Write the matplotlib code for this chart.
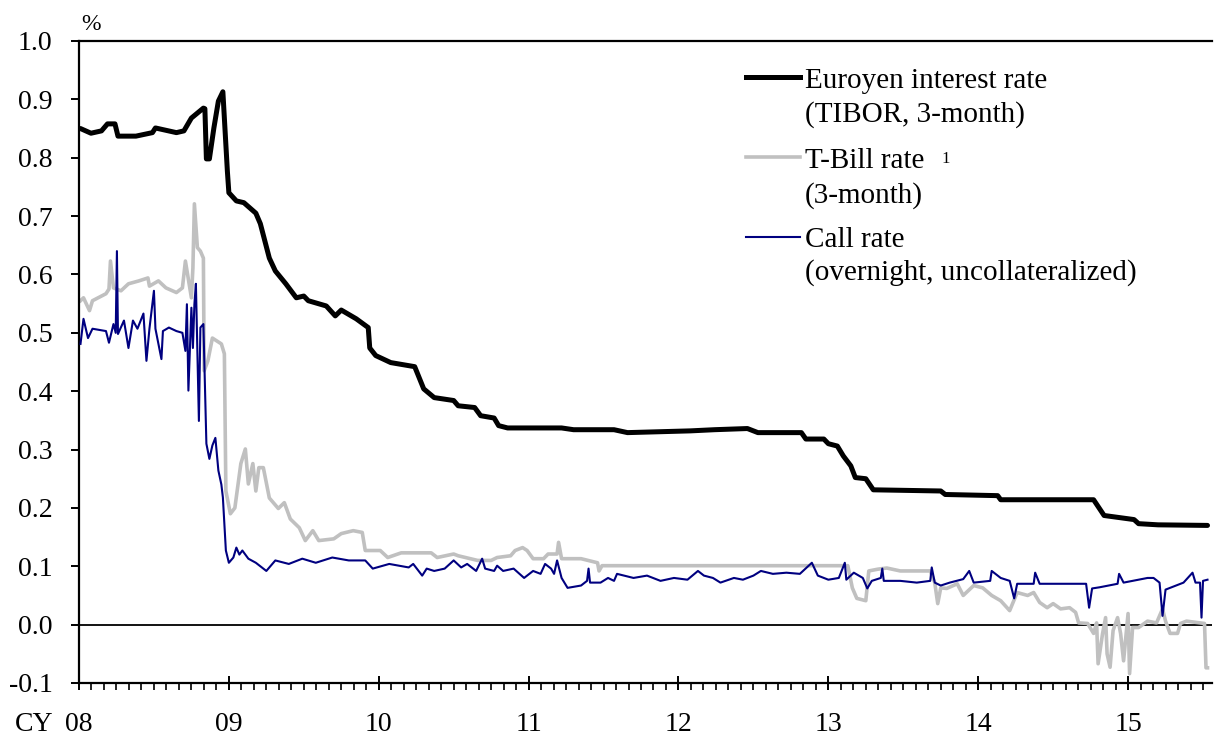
import numpy as np
import matplotlib
matplotlib.use("Agg")
import matplotlib.pyplot as plt
from matplotlib.lines import Line2D

# ---------------- data (decimal calendar years, %) ----------------
tibor_x = [2008.01, 2008.08, 2008.15, 2008.19, 2008.24, 2008.26, 2008.38, 2008.49, 2008.51, 2008.65,
           2008.70, 2008.75, 2008.83, 2008.84, 2008.85, 2008.87, 2008.90, 2008.93, 2008.96, 2008.99,
           2009.00, 2009.05, 2009.10, 2009.18, 2009.21, 2009.27, 2009.31, 2009.38, 2009.45, 2009.50,
           2009.53, 2009.65, 2009.71, 2009.75, 2009.85, 2009.93, 2009.94, 2009.98, 2010.08, 2010.24,
           2010.30, 2010.37, 2010.50, 2010.53, 2010.64, 2010.68, 2010.77, 2010.80, 2010.86, 2011.22,
           2011.30, 2011.57, 2011.66, 2012.08, 2012.24, 2012.46, 2012.53, 2012.82, 2012.85, 2012.97,
           2013.00, 2013.06, 2013.10, 2013.15, 2013.18, 2013.25, 2013.30, 2013.75, 2013.78, 2014.13,
           2014.15, 2014.77, 2014.84, 2015.04, 2015.07, 2015.20, 2015.53]
tibor_y = [0.850, 0.842, 0.846, 0.858, 0.858, 0.837, 0.837, 0.843, 0.851, 0.843,
           0.846, 0.868, 0.885, 0.884, 0.798, 0.798, 0.851, 0.897, 0.913, 0.777,
           0.740, 0.726, 0.723, 0.705, 0.687, 0.628, 0.606, 0.584, 0.560, 0.563,
           0.555, 0.546, 0.529, 0.539, 0.524, 0.509, 0.474, 0.461, 0.449, 0.442,
           0.404, 0.389, 0.384, 0.375, 0.372, 0.358, 0.354, 0.341, 0.337, 0.337,
           0.334, 0.334, 0.329, 0.332, 0.334, 0.336, 0.329, 0.329, 0.318, 0.318,
           0.310, 0.306, 0.289, 0.272, 0.252, 0.250, 0.231, 0.229, 0.223, 0.221,
           0.214, 0.214, 0.187, 0.180, 0.173, 0.171, 0.170]

tbill_x = [2008.01, 2008.03, 2008.07, 2008.09, 2008.18, 2008.20, 2008.21, 2008.23, 2008.28, 2008.33,
           2008.40, 2008.46, 2008.47, 2008.53, 2008.58, 2008.65, 2008.69, 2008.71, 2008.75, 2008.76,
           2008.77, 2008.79, 2008.81, 2008.83, 2008.835, 2008.86, 2008.89, 2008.95, 2008.97, 2008.98,
           2009.01, 2009.04, 2009.08, 2009.11, 2009.13, 2009.16, 2009.18, 2009.20, 2009.23, 2009.27,
           2009.33, 2009.37, 2009.41, 2009.47, 2009.51, 2009.56, 2009.60, 2009.70, 2009.75, 2009.83,
           2009.89, 2009.91, 2010.01, 2010.06, 2010.15, 2010.35, 2010.39, 2010.50, 2010.53, 2010.66,
           2010.75, 2010.79, 2010.88, 2010.91, 2010.96, 2010.99, 2011.03, 2011.10, 2011.13, 2011.19,
           2011.20, 2011.22, 2011.35, 2011.46, 2011.47, 2011.49, 2013.13, 2013.16, 2013.19, 2013.25,
           2013.27, 2013.33, 2013.39, 2013.48, 2013.68, 2013.71, 2013.73, 2013.75, 2013.79, 2013.86,
           2013.90, 2013.97, 2014.03, 2014.09, 2014.15, 2014.21, 2014.26, 2014.33, 2014.37, 2014.41,
           2014.46, 2014.50, 2014.55, 2014.61, 2014.65, 2014.67, 2014.73, 2014.77, 2014.79, 2014.80,
           2014.83, 2014.85, 2014.86, 2014.88, 2014.90, 2014.93, 2014.95, 2014.97, 2015.00, 2015.01,
           2015.03, 2015.07, 2015.13, 2015.19, 2015.23, 2015.25, 2015.28, 2015.33, 2015.35, 2015.39,
           2015.48, 2015.51, 2015.52, 2015.53]
tbill_y = [0.555, 0.560, 0.538, 0.555, 0.567, 0.575, 0.623, 0.577, 0.572, 0.584,
           0.589, 0.594, 0.580, 0.589, 0.577, 0.569, 0.577, 0.623, 0.560, 0.611,
           0.721, 0.646, 0.640, 0.628, 0.435, 0.452, 0.491, 0.481, 0.464, 0.229,
           0.190, 0.200, 0.276, 0.301, 0.241, 0.276, 0.229, 0.269, 0.269, 0.217,
           0.199, 0.209, 0.181, 0.166, 0.144, 0.161, 0.144, 0.147, 0.156, 0.161,
           0.158, 0.127, 0.127, 0.115, 0.123, 0.123, 0.115, 0.121, 0.118, 0.110,
           0.110, 0.115, 0.118, 0.127, 0.132, 0.127, 0.113, 0.113, 0.121, 0.121,
           0.141, 0.113, 0.113, 0.106, 0.092, 0.101, 0.101, 0.063, 0.045, 0.041,
           0.092, 0.095, 0.097, 0.092, 0.092, 0.072, 0.036, 0.063, 0.062, 0.070,
           0.050, 0.067, 0.063, 0.050, 0.041, 0.024, 0.055, 0.050, 0.055, 0.038,
           0.029, 0.036, 0.027, 0.029, 0.021, 0.003, 0.002, -0.015, 0.003, -0.067,
           -0.015, 0.012, -0.050, -0.073, -0.010, 0.012, -0.015, -0.062, 0.019, -0.084,
           -0.005, -0.005, 0.006, 0.003, 0.027, 0.006, -0.015, -0.015, 0.002, 0.006,
           0.003, 0.002, -0.074, -0.074]

call_x = [2008.01, 2008.03, 2008.06, 2008.09, 2008.18, 2008.20, 2008.23, 2008.245, 2008.253, 2008.26,
          2008.30, 2008.33, 2008.36, 2008.39, 2008.43, 2008.45, 2008.47, 2008.50, 2008.51, 2008.55,
          2008.56, 2008.60, 2008.65, 2008.69, 2008.71, 2008.72, 2008.73, 2008.75, 2008.76, 2008.77,
          2008.78, 2008.80, 2008.81, 2008.83, 2008.85, 2008.87, 2008.89, 2008.91, 2008.93, 2008.95,
          2008.96, 2008.98, 2009.00, 2009.03, 2009.05, 2009.07, 2009.09, 2009.13, 2009.18, 2009.25,
          2009.31, 2009.40, 2009.49, 2009.58, 2009.69, 2009.80, 2009.91, 2009.96, 2010.07, 2010.20,
          2010.23, 2010.29, 2010.32, 2010.37, 2010.44, 2010.50, 2010.55, 2010.59, 2010.65, 2010.69,
          2010.71, 2010.77, 2010.79, 2010.83, 2010.90, 2010.97, 2011.03, 2011.08, 2011.11, 2011.15,
          2011.17, 2011.19, 2011.22, 2011.26, 2011.35, 2011.39, 2011.40, 2011.41, 2011.48, 2011.53,
          2011.57, 2011.59, 2011.70, 2011.79, 2011.88, 2011.97, 2012.06, 2012.13, 2012.17, 2012.23,
          2012.28, 2012.37, 2012.43, 2012.50, 2012.55, 2012.63, 2012.72, 2012.81, 2012.89, 2012.93,
          2013.00, 2013.07, 2013.11, 2013.12, 2013.17, 2013.23, 2013.26, 2013.29, 2013.35, 2013.36,
          2013.37, 2013.48, 2013.59, 2013.68, 2013.69, 2013.71, 2013.75, 2013.81, 2013.90, 2013.94,
          2013.97, 2014.08, 2014.09, 2014.15, 2014.21, 2014.24, 2014.26, 2014.37, 2014.38, 2014.41,
          2014.59, 2014.72, 2014.74, 2014.76, 2014.81, 2014.93, 2014.94, 2014.97, 2015.03, 2015.13,
          2015.17, 2015.21, 2015.23, 2015.25, 2015.37, 2015.43, 2015.45, 2015.48, 2015.49, 2015.50,
          2015.53]
call_y = [0.481, 0.524, 0.491, 0.507, 0.503, 0.483, 0.515, 0.500, 0.640, 0.498,
          0.521, 0.474, 0.521, 0.507, 0.533, 0.452, 0.507, 0.572, 0.507, 0.455,
          0.503, 0.509, 0.503, 0.500, 0.469, 0.549, 0.401, 0.543, 0.474, 0.549,
          0.584, 0.349, 0.509, 0.515, 0.310, 0.284, 0.307, 0.320, 0.264, 0.240,
          0.218, 0.127, 0.106, 0.115, 0.132, 0.120, 0.127, 0.113, 0.106, 0.092,
          0.110, 0.104, 0.113, 0.106, 0.115, 0.110, 0.110, 0.096, 0.104, 0.098,
          0.104, 0.084, 0.096, 0.092, 0.096, 0.110, 0.098, 0.104, 0.092, 0.113,
          0.096, 0.092, 0.101, 0.092, 0.096, 0.080, 0.092, 0.087, 0.104, 0.096,
          0.087, 0.110, 0.080, 0.063, 0.067, 0.075, 0.096, 0.072, 0.072, 0.080,
          0.075, 0.087, 0.080, 0.084, 0.075, 0.080, 0.077, 0.092, 0.084, 0.080,
          0.072, 0.080, 0.077, 0.084, 0.092, 0.087, 0.089, 0.087, 0.106, 0.084,
          0.077, 0.080, 0.106, 0.077, 0.089, 0.080, 0.062, 0.075, 0.080, 0.096,
          0.075, 0.075, 0.072, 0.075, 0.098, 0.072, 0.067, 0.072, 0.078, 0.092,
          0.072, 0.075, 0.092, 0.080, 0.075, 0.045, 0.070, 0.070, 0.089, 0.070,
          0.070, 0.070, 0.029, 0.062, 0.064, 0.070, 0.087, 0.072, 0.075, 0.080,
          0.080, 0.072, 0.015, 0.060, 0.072, 0.089, 0.072, 0.072, 0.012, 0.075,
          0.077]

year_ticks = [2008, 2009, 2010, 2011, 2012, 2013, 2014, 2015]
year_labels = ["08", "09", "10", "11", "12", "13", "14", "15"]
y_ticks = [-0.1, 0.0, 0.1, 0.2, 0.3, 0.4, 0.5, 0.6, 0.7, 0.8, 0.9, 1.0]
y_labels = ["-0.1", "0.0", "0.1", "0.2", "0.3", "0.4", "0.5", "0.6", "0.7", "0.8", "0.9", "1.0"]

series_lines = [["Euroyen interest rate", "(TIBOR, 3-month)"],
                ["T-Bill rate", "(3-month)"],
                ["Call rate", "(overnight, uncollateralized)"]]

# ---------------- figure ----------------
plt.rcParams["font.family"] = ["Liberation Serif", "DejaVu Serif"]
W, H = 1215, 738
fig = plt.figure(figsize=(W / 100, H / 100), dpi=100)
ax = fig.add_axes([79 / W, 1 - 683 / H, (1212 - 79) / W, (683 - 41) / H])

BLACK, GREY, NAVY = "#000000", "#C0C0C0", "#000080"
ax.plot(tbill_x, tbill_y, color=GREY, lw=2.6, zorder=2, solid_joinstyle="round")
ax.plot(call_x, call_y, color=NAVY, lw=1.5, zorder=3, solid_joinstyle="round")
ax.plot(tibor_x, tibor_y, color=BLACK, lw=3.6, zorder=4, solid_joinstyle="round", solid_capstyle="round")
ax.axhline(0, color="black", lw=1.3, zorder=1)

ax.set_xlim(2008, 2015.56)
ax.set_ylim(-0.1, 1.0)

for s in ["left", "bottom", "top"]:
    ax.spines[s].set_linewidth(1.6)
ax.spines["right"].set_visible(False)

ax.set_yticks(y_ticks)
ax.set_yticklabels(y_labels)
ax.set_xticks(year_ticks)
ax.set_xticklabels(year_labels)
ax.set_xticks(np.arange(2008, 2015.56, 1 / 12), minor=True)
ax.tick_params(axis="y", direction="out", length=6, width=1.4, pad=13, labelsize=20)
ax.tick_params(axis="x", which="major", direction="inout", length=10, width=1.4, pad=16, labelsize=20)
ax.tick_params(axis="x", which="minor", direction="out", length=5, width=1.2)

def px(x, y):
    return x / W, 1 - y / H

fig.text(*px(91, 24), "%", fontsize=17, ha="center", va="center")
fig.text(*px(34, 731), "CY", fontsize=20, ha="center", va="baseline")

# legend drawn by hand: handle aligned with the first line of each label
handle_y = [77, 157, 237]
baselines = [(88, 122), (168, 203), (247, 280)]
styles = [(BLACK, 3.6), (GREY, 2.6), (NAVY, 1.5)]
for hy, (b1, b2), (col, lw), lines in zip(handle_y, baselines, styles, series_lines):
    x0, y0 = px(746, hy)
    x1, _ = px(800, hy)
    fig.add_artist(Line2D([x0, x1], [y0, y0], color=col, lw=lw, transform=fig.transFigure))
    fig.text(*px(805, b1), lines[0], fontsize=21, ha="left", va="baseline")
    fig.text(*px(805, b2), lines[1], fontsize=21, ha="left", va="baseline")
fig.text(*px(941, 151), "1", fontsize=12, ha="left", va="top")

fig.savefig("out.png", dpi=100)
